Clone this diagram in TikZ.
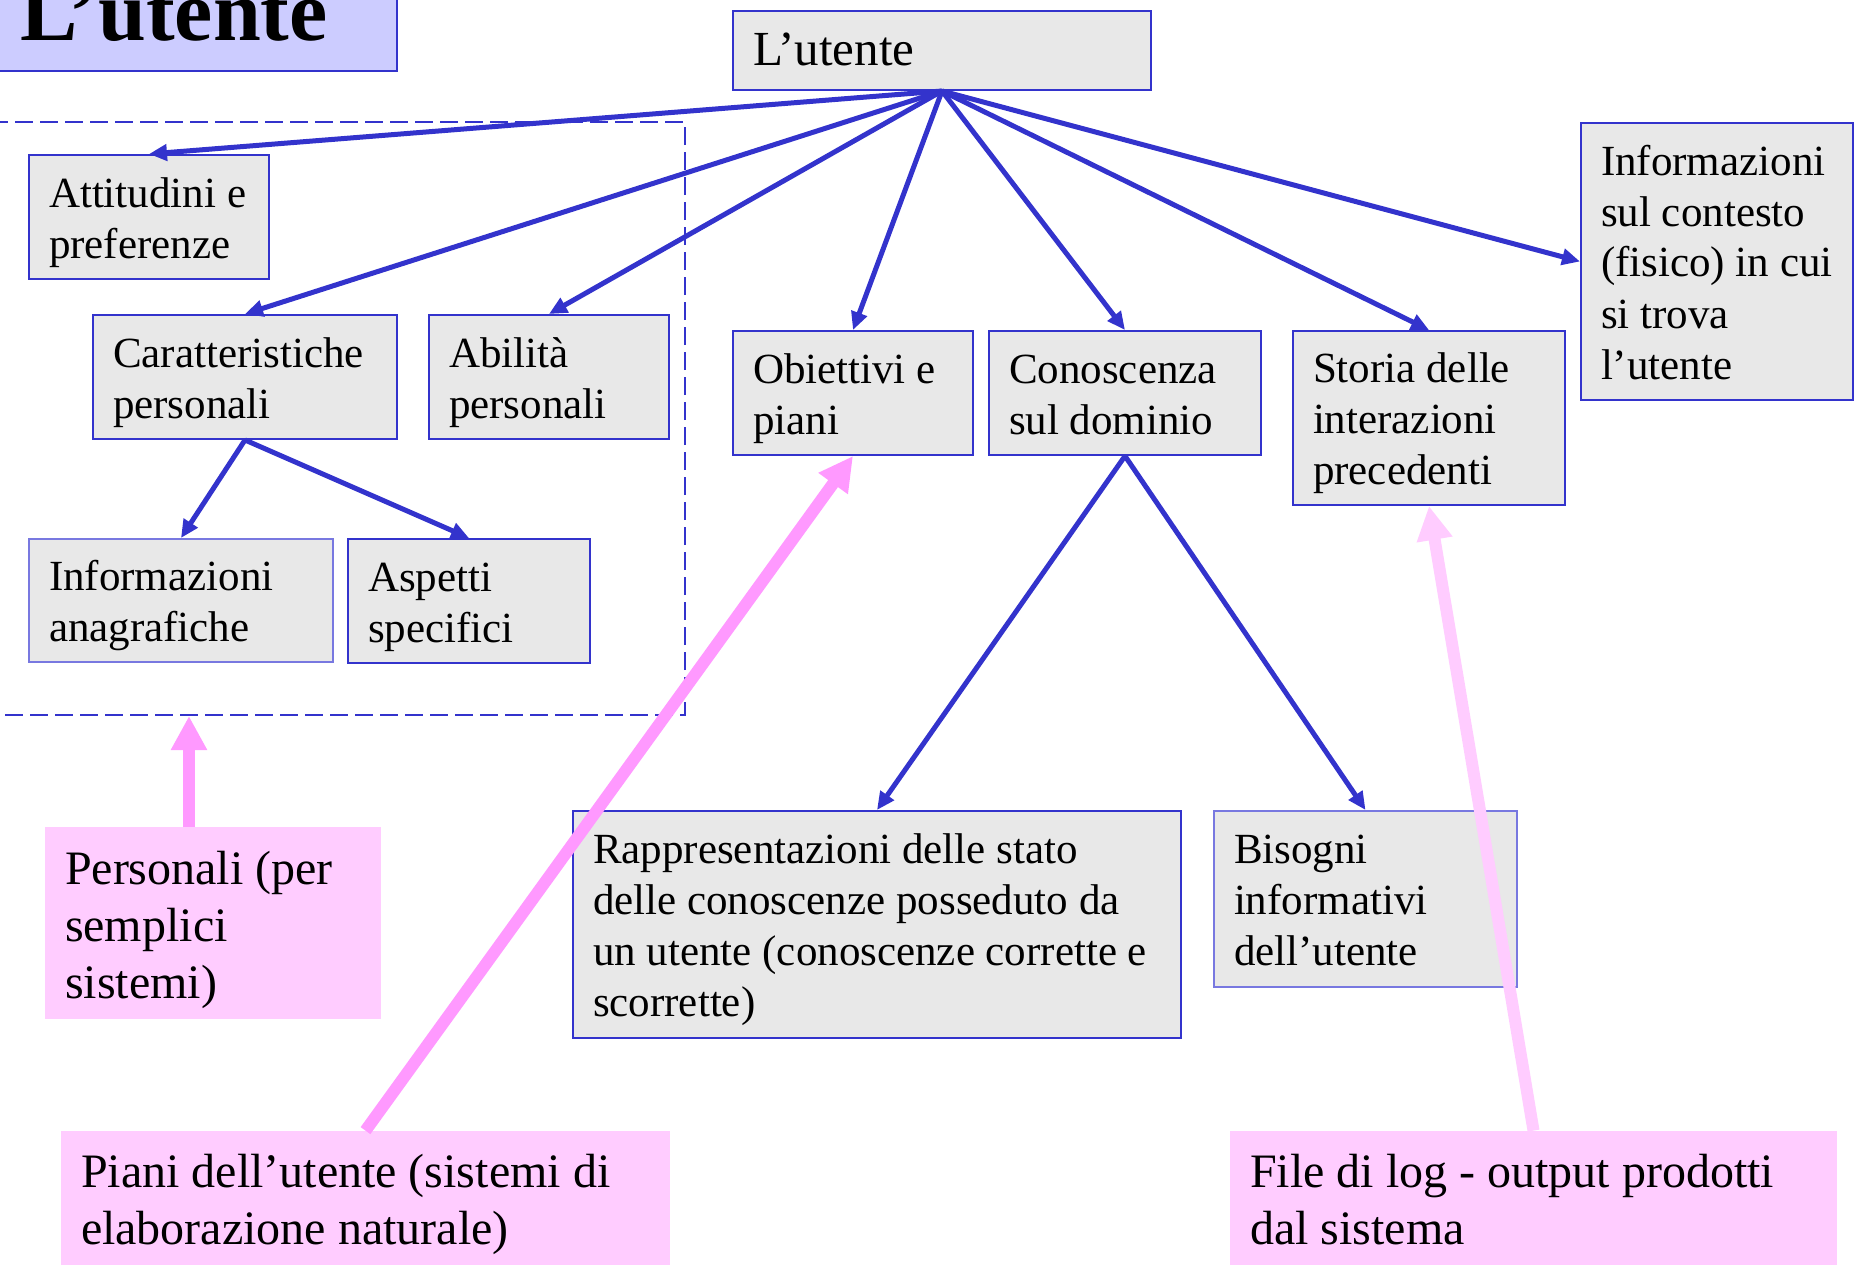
\documentclass[tikz,border=0pt]{standalone}
\usepackage{fontspec}
\setmainfont{Liberation Serif}
\usetikzlibrary{arrows.meta}
\definecolor{boxblue}{RGB}{51,51,204}
\definecolor{paleblue}{RGB}{120,120,224}
\definecolor{boxgray}{RGB}{232,232,232}
\definecolor{titleblue}{RGB}{204,204,255}
\definecolor{notepink}{RGB}{255,204,255}
\definecolor{hintpink}{RGB}{255,153,255}
\begin{document}
\begin{tikzpicture}[x=0.5pt, y=-0.5pt,
  box/.style={rectangle, draw=boxblue, line width=1pt, fill=boxgray, inner xsep=10pt, inner ysep=0pt, align=flush left, font=\fontsize{21.5}{25.5}\selectfont, execute at begin node={\rule{0pt}{21.5pt}}, execute at end node={\rule[-6pt]{0pt}{6pt}}},
  note/.style={rectangle, fill=notepink, inner xsep=10pt, inner ysep=0pt, align=flush left, font=\fontsize{24}{28.5}\selectfont, execute at begin node={\rule{0pt}{23.5pt}}, execute at end node={\rule[-5.5pt]{0pt}{5.5pt}}},
  link/.style={draw=boxblue, line width=2.5pt, -{Triangle[length=9pt, width=8pt]}},
  hint/.style={draw=hintpink, line width=6pt, -{Triangle[length=17pt, width=17pt]}}]
\useasboundingbox (0, 0) rectangle (1867, 1268);

\node (D) at (332.5, 418.75) [rectangle, draw=boxblue, line width=1pt, dash pattern=on 9pt off 3.5pt, minimum width=352.5pt, minimum height=296.25pt] {};
\node (T) at (174, 12) [rectangle, draw=boxblue, line width=1pt, fill=titleblue, minimum width=223pt, minimum height=59pt, font=\fontsize{43}{50}\selectfont\bfseries] {L’utente};

\node (U) at (942, 50.5) [box, text width=189pt, minimum height=39.5pt, font=\fontsize{24.5}{29}\selectfont] {L’utente};
\node (A) at (149, 217) [box, text width=100pt, minimum height=62pt] {Attitudini e\\preferenze};
\node (C) at (245, 377) [box, text width=132pt, minimum height=62pt] {Caratteristiche\\personali};
\node (B) at (549, 377) [box, text width=100pt, minimum height=62pt] {Abilità\\personali};
\node (O) at (853, 393) [box, text width=100pt, minimum height=62pt] {Obiettivi e\\piani};
\node (K) at (1125, 393) [box, text width=116pt, minimum height=62pt] {Conoscenza\\sul dominio};
\node (S) at (1429, 418) [box, text width=116pt, minimum height=87pt] {Storia delle\\interazioni\\precedenti};
\node (X) at (1717, 261.5) [box, text width=116pt, minimum height=138.5pt] {Informazioni\\sul contesto\\(fisico) in cui\\si trova\\l’utente};
\node (I) at (181, 600.5) [box, draw=paleblue, text width=132pt, minimum height=61.5pt] {Informazioni\\anagrafiche};
\node (P) at (469, 601) [box, text width=101pt, minimum height=62pt] {Aspetti\\specifici};
\node (R) at (877, 924.5) [box, text width=284pt, minimum height=113.5pt] {Rappresentazioni delle stato\\delle conoscenze posseduto da\\un utente (conoscenze corrette e\\scorrette)};
\node (N) at (1365.5, 899) [box, draw=paleblue, text width=131.5pt, minimum height=88pt] {Bisogni\\informativi\\dell’utente};

\node (Q) at (213, 923) [note, text width=148pt, minimum height=96pt] {Personali (per\\semplici\\sistemi)};
\node (L) at (365.5, 1198) [note, text width=284.5pt, minimum height=67pt] {Piani dell’utente (sistemi di\\elaborazione naturale)};
\node (F) at (1533.5, 1198) [note, text width=283.5pt, minimum height=67pt] {File di log - output prodotti\\dal sistema};

\draw[link] (U.south) to (A.north);
\draw[link] (U.south) to (C.north);
\draw[link] (U.south) to (B.north);
\draw[link] (U.south) to (O.north);
\draw[link] (U.south) to (K.north);
\draw[link] (U.south) to (S.north);
\draw[link] (U.south) to (X.west);
\draw[link] (C.south) to (I.north);
\draw[link] (C.south) to (P.north);
\draw[link] (K.south) to (R.north);
\draw[link] (K.south) to (N.north);

\coordinate (Qt) at ([xshift=-12pt]Q.north);
\draw[hint] (Qt) to (Qt |- D.south);
\draw[hint] (L.north) to (O.south);
\draw[hint, draw=notepink] (F.north) to (S.south);
\end{tikzpicture}
\end{document}
